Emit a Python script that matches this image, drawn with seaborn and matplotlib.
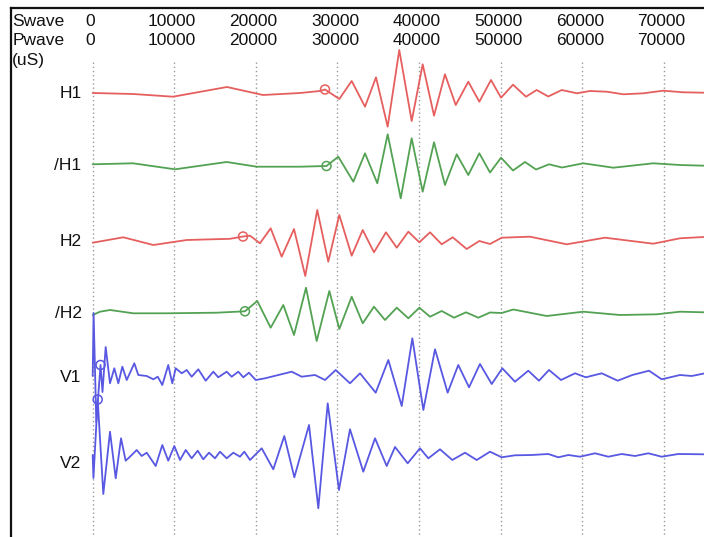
import matplotlib
matplotlib.use("Agg")
import matplotlib.pyplot as plt
import numpy as np
import pandas as pd
import seaborn as sns

# ---------------- data (time in uS, amplitude in display units) ----------------
tick_values = [0, 10000, 20000, 30000, 40000, 50000, 60000, 70000]
row_names = ["Swave", "Pwave"]
unit_label = "(uS)"
trace_names = ["H1", "/H1", "H2", "/H2", "V1", "V2"]

h1_t = [0, 4940, 9840, 16460, 20870, 25400, 27860, 28470, 30220, 31740, 33370, 34720,
        36150, 37570, 39090, 40440, 41830, 43170, 44490, 46030, 47380, 48810, 50040, 51510,
        53100, 54410, 55830, 57480, 59350, 60940, 62990, 65030, 67480, 69930, 72380, 74910]
h1_a = [0, -1, -3.7, 6, -2, 0, 2, 3.5, -6, 12, -13.7, 15.7,
        -33.7, 43, -28, 28.7, -22.7, 18.7, -12, 11.3, -8.7, 13, -4.7, 8.3,
        -3.7, 3, -3.5, 3, -0.3, 2, 1.3, -1.3, -0.3, 2.3, 0.7, 0.3]

dh1_t = [0, 4940, 10090, 16420, 20100, 25400, 28650, 30100, 31940, 33370, 34880, 36150,
         37750, 39090, 40440, 41830, 43170, 44610, 46030, 47380, 48690, 50040, 51510, 52980,
         54330, 55920, 57510, 60120, 63800, 68700, 71970, 74910]
dh1_a = [1.2, 2.2, -3.8, 3.5, -1.2, -1.2, -0.5, 8.8, -16.2, 12.2, -17.8, 31.2,
         -32.8, 27.2, -26.2, 23.2, -19.5, 11.2, -9.5, 12.2, -7, 7.8, -5, 3.5,
         -4, 1.2, -2, 2.2, -2.2, 2.2, 0.5, -0.2]

h2_t = [0, 3750, 7430, 11520, 16830, 18420, 19280, 20500, 21810, 23160, 24670, 26050,
        27520, 28870, 30220, 31740, 33090, 34470, 35940, 37260, 38680, 40030, 41340, 42770,
        44120, 45830, 47380, 48690, 50120, 53590, 58090, 62780, 68700, 71970, 74910]
h2_a = [-2.7, 2.7, -5, 0, 1.2, 3.5, 4.3, -3.3, 11.7, -16.7, 11, -36,
        30, -21.7, 25, -15.7, 10, -12.3, 7.7, -7.7, 8.3, -2.3, 7.7, -4.3,
        2.7, -9, -1, -4, 2.3, 3.3, -4.3, 2.3, -3.7, 1.7, 3]

dh2_t = [0, 900, 2120, 4980, 9070, 15200, 18660, 20170, 21810, 23360, 24670, 26140,
         27450, 29000, 30220, 31740, 33090, 34470, 35820, 37260, 38680, 40030, 41340, 42770,
         44280, 45750, 47260, 48690, 50120, 51550, 55640, 60120, 64620, 69120, 71970, 74910]
dh2_a = [-2.5, 0.8, 2.5, -0.8, -0.8, -0.2, 1.2, 11.5, -15.2, 7.5, -22.5, 24.8,
         -28.5, 21.5, -16.5, 15.8, -10.8, 5.8, -7.5, 4.8, -5.8, 4.8, -4.2, 1.5,
         -5.2, 0.2, -5.2, 0, -0.5, 3, -3.5, 0.8, -2.5, -1.8, 0.8, 0.2]

v1_t = [0, 110, 440, 960, 1200, 1590, 2120, 2650, 3140, 3630, 4170, 5100, 5590, 6620,
        7430, 7970, 8530, 9260, 9750, 10170, 10910, 11520, 12130, 12940, 13850, 14780,
        15390, 16420, 17030, 17840, 18460, 19150, 19980, 21120, 22750, 24390, 25610, 27240,
        28470, 29780, 31530, 32760, 34680, 36230, 37870, 39170, 40520, 41950, 43500, 44800,
        46120, 47460, 48900, 50200, 51750, 53380, 54690, 55920, 57390, 59110, 60420, 62380,
        64340, 66130, 68180, 69730, 71970, 73410, 74910]
v1_a = [0, 63, -46, 11, -16, 29, -7.3, 7.7, -7.3, 9.3, -4, 12.7, 1, 0,
        -3.3, -0.7, -9, 11, -7.3, 7.7, 2.7, 6, -0.7, 6.7, -4.7, 4.3,
        -1.3, 4.3, -0.7, 4.3, -1.3, 3.3, -4, -2.3, 1, 4.3, -0.7, 1,
        -4, 6, -7.3, 2.7, -16.7, 16, -30, 37.7, -34, 26.7, -16.7, 11,
        -11.3, 12, -8, 7.7, -5.7, 5.3, -4.7, 6, -4, 2.7, -1.3, 2.7,
        -4.7, 1, 5.3, -3.3, 1, 0, 2.5]

v2_t = [0, 90, 610, 1300, 2120, 2820, 3470, 4040, 4570, 5390, 6000, 6620, 7720, 8530,
        9260, 10000, 10700, 11400, 12130, 12870, 13550, 14250, 14990, 15600, 16420, 17230,
        18050, 18580, 19280, 20710, 22130, 23480, 24710, 26510, 27650, 28800, 30180, 31530,
        33160, 34600, 36030, 37050, 38600, 40110, 41130, 42560, 44070, 45630, 47060, 48690,
        50120, 51750, 53800, 55830, 57060, 58290, 59720, 61560, 63190, 64830, 66460, 68090,
        69730, 71770, 74910]
v2_a = [0, -23, 55.5, -39, 23.3, -23.3, 16.7, -5.7, -1.7, 5, -1, 2.3, -11, 10,
        -5.7, 9, -5, 5, -3.3, 4.3, -4.3, 2.3, -3.3, 3.3, -3.3, 2.3,
        -1.7, 3.3, -5, 6.7, -14.3, 19, -22.3, 30, -53.3, 51.7, -35, 25.7,
        -16.7, 16.7, -11, 8, -8.3, 6.7, -3.3, 5.7, -5, 2.3, -5, 3.3,
        -2.3, -0.3, 0, 1, -2.3, 0, -1.7, 1.7, -1.7, 1, -1, 1.7,
        -1.7, 1, 0.7]

# arrival picks (circles)
pick_t = [28470, 28650, 18420, 18660, 960, 610]
pick_a = [3.5, -0.5, 3.5, 1.2, 11, 55.5]

# ---------------- layout / style ----------------
W, H = 704, 537
baselines = [93, 165.5, 240, 312.5, 376, 455]      # pixel rows of the traces
label_rows = [94, 166, 241, 313, 377, 463]
colors = ["#e65f5f", "#53a253", "#e65f5f", "#53a253", "#5858e2", "#5858e2"]
PX0, PXSCALE = 92.7, 122.55                          # pixel of t=0, uS per pixel


def px2t(px):
    return (px - PX0) * PXSCALE


sns.set_style("white")
plt.rcParams["font.family"] = ["Liberation Sans", "DejaVu Sans"]

fig = plt.figure(figsize=(W / 100, H / 100), dpi=100)
ax = fig.add_axes([11 / W, 0, (W - 11) / W, (H - 8.3) / H])
ax.set_xlim(px2t(11), px2t(W))
ax.set_ylim(H, 8.3)

# grid lines
ax.vlines(tick_values, 62, H, colors="#9a9a9a", linewidth=1.0,
          linestyles=(0, (1, 2)), zorder=1)

# traces
series_t = [h1_t, dh1_t, h2_t, dh2_t, v1_t, v2_t]
series_a = [h1_a, dh1_a, h2_a, dh2_a, v1_a, v2_a]
frames = []
for name, t, a, b in zip(trace_names, series_t, series_a, baselines):
    frames.append(pd.DataFrame({"time": t, "y": b - np.asarray(a, float), "trace": name}))
df = pd.concat(frames, ignore_index=True)
palette = dict(zip(trace_names, colors))
sns.lineplot(data=df, x="time", y="y", hue="trace", palette=palette, estimator=None,
             sort=False, legend=False, linewidth=1.3, ax=ax, zorder=2)
for line in ax.get_lines():
    line.set_solid_joinstyle("round")
    line.set_solid_capstyle("round")

picks = pd.DataFrame({"time": pick_t,
                      "y": [b - a for b, a in zip(baselines, pick_a)],
                      "trace": trace_names})
for _, r in picks.iterrows():
    ax.scatter([r["time"]], [r["y"]], s=42, facecolors="none",
               edgecolors=palette[r["trace"]], linewidths=1.1, zorder=3)

# header rows
txt = dict(fontsize=12.5, color="#111111", va="center")
for row_y, name in zip([21.7, 40.5], row_names):
    ax.text(px2t(12.5), row_y, name, ha="left", **txt)
    for v in tick_values:
        ax.text(v - 280, row_y, str(v), ha="center", **txt)
ax.text(px2t(11.5), 61, unit_label, ha="left", **txt)

# trace labels
for name, ly in zip(trace_names, label_rows):
    ax.text(px2t(81.5), ly, name, ha="right", **txt)

# frame: left and top only
for side in ["right", "bottom"]:
    ax.spines[side].set_visible(False)
for side in ["left", "top"]:
    ax.spines[side].set_visible(True)
    ax.spines[side].set_color("#111111")
    ax.spines[side].set_linewidth(1.6)
ax.set_xticks([])
ax.set_yticks([])
ax.set_xlabel("")
ax.set_ylabel("")

fig.savefig("out.png", dpi=100)
